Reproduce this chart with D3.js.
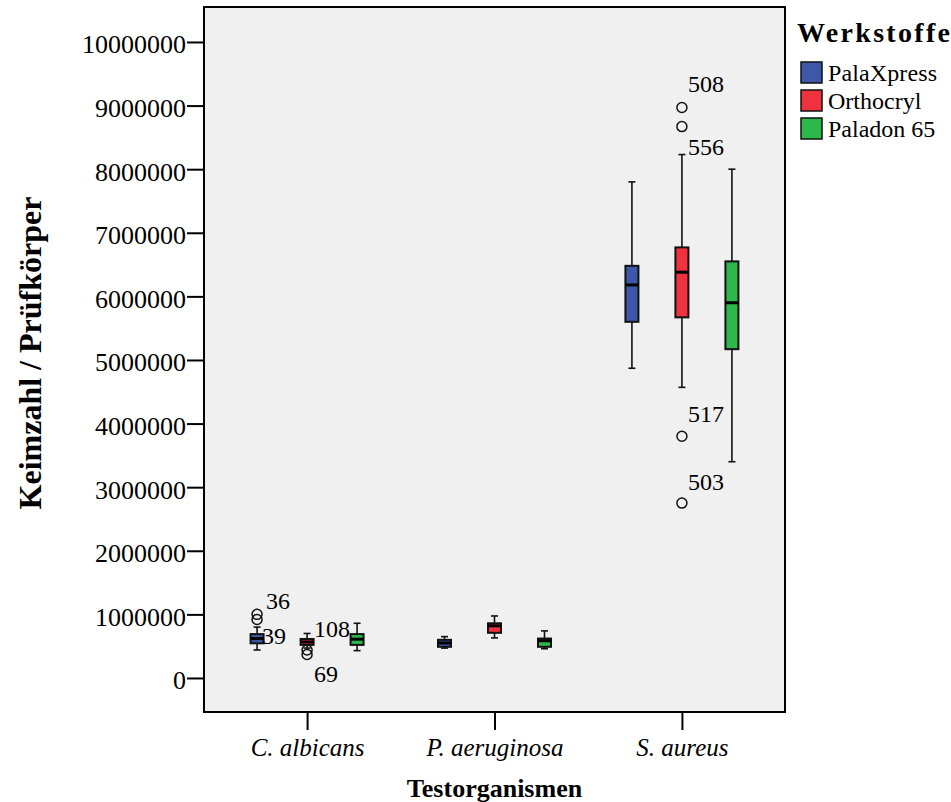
<!DOCTYPE html>
<html>
<head>
<meta charset="utf-8">
<script src="https://cdn.jsdelivr.net/npm/d3@7"></script>
<style>
  body { margin: 0; background: #fff; }
  svg text { font-family: "Liberation Serif", "Times New Roman", serif; fill: #000; }
</style>
</head>
<body>
<svg id="chart"></svg>
<script>
// Kategorien und Serien
const groups = ["C. albicans", "P. aeruginosa", "S. aureus"];
const series = ["PalaXpress", "Orthocryl", "Paladon 65"];
const seriesColors = ["#3d57a9", "#f0323f", "#2db84b"];

// Fünf-Punkte-Zusammenfassung je Gruppe: [Whisker unten, Q1, Median, Q3, Whisker oben]
const palaXpress = [
  [440000, 545000, 620000, 690000, 800000],
  [470000, 490000, 550000, 600000, 650000],
  [4870000, 5600000, 6180000, 6480000, 7800000]
];
const orthocryl = [
  [470000, 520000, 566000, 613000, 700000],
  [630000, 710000, 820000, 860000, 975000],
  [4570000, 5670000, 6380000, 6770000, 8230000]
];
const paladon65 = [
  [430000, 520000, 610000, 690000, 860000],
  [460000, 490000, 585000, 620000, 740000],
  [3400000, 5170000, 5900000, 6550000, 8000000]
];

// Ausreißer mit Fallnummern
const outliers = [
  { group: "C. albicans", series: "PalaXpress", value: 1000000, id: "36" },
  { group: "C. albicans", series: "PalaXpress", value: 920000, id: "39" },
  { group: "C. albicans", series: "Orthocryl", value: 440000, id: "108" },
  { group: "C. albicans", series: "Orthocryl", value: 370000, id: "69" },
  { group: "S. aureus", series: "Orthocryl", value: 8970000, id: "508" },
  { group: "S. aureus", series: "Orthocryl", value: 8670000, id: "556" },
  { group: "S. aureus", series: "Orthocryl", value: 3800000, id: "517" },
  { group: "S. aureus", series: "Orthocryl", value: 2750000, id: "503" }
];

const yTicks = d3.range(0, 10000001, 1000000);

// Lage der Beschriftungen relativ zum Punkt (wie SPSS sie verschiebt)
const labelOffsets = {
  "36": [9, -5], "39": [5, 25], "108": [7, -13], "69": [7, 28],
  "508": [6, -15], "556": [6, 28], "517": [6, -14], "503": [6, -13]
};

const serif = "'Liberation Serif', 'Times New Roman', serif";
const width = 951, height = 802;
const plot = { left: 204, right: 785, top: 7, bottom: 712 };

const svg = d3.select("#chart")
  .attr("width", width).attr("height", height)
  .attr("font-family", serif);

const y = d3.scaleLinear()
  .domain([-535000, 10550000])
  .range([plot.bottom, plot.top]);

const x = d3.scalePoint()
  .domain(groups)
  .range([plot.left, plot.right])
  .padding(0.55);

const xSub = d3.scalePoint()
  .domain(series)
  .range([-50, 50]);

const color = d3.scaleOrdinal().domain(series).range(seriesColors);

// Hintergrund der Zeichenfläche
svg.append("rect")
  .attr("x", plot.left).attr("y", plot.top)
  .attr("width", plot.right - plot.left)
  .attr("height", plot.bottom - plot.top)
  .attr("fill", "#f0f0f0");

// Boxen aufbauen
const boxData = [];
[palaXpress, orthocryl, paladon65].forEach((stats, si) => {
  stats.forEach((s, gi) => {
    boxData.push({
      group: groups[gi], series: series[si],
      lo: s[0], q1: s[1], med: s[2], q3: s[3], hi: s[4]
    });
  });
});

const boxW = 13, capW = 7;
const boxes = svg.append("g").attr("class", "boxes")
  .selectAll("g")
  .data(boxData)
  .join("g")
  .attr("transform", d => `translate(${x(d.group) + xSub(d.series)},0)`);

boxes.append("line")
  .attr("y1", d => y(d.lo)).attr("y2", d => y(d.hi))
  .attr("stroke", "#111").attr("stroke-width", 1.6);

boxes.selectAll(".cap")
  .data(d => [d.lo, d.hi])
  .join("line")
  .attr("class", "cap")
  .attr("x1", -capW / 2).attr("x2", capW / 2)
  .attr("y1", v => y(v)).attr("y2", v => y(v))
  .attr("stroke", "#111").attr("stroke-width", 1.6);

boxes.append("rect")
  .attr("x", -boxW / 2)
  .attr("y", d => y(d.q3))
  .attr("width", boxW)
  .attr("height", d => y(d.q1) - y(d.q3))
  .attr("fill", d => color(d.series))
  .attr("stroke", "#111").attr("stroke-width", 2);

boxes.append("line")
  .attr("x1", -boxW / 2).attr("x2", boxW / 2)
  .attr("y1", d => y(d.med)).attr("y2", d => y(d.med))
  .attr("stroke", "#000").attr("stroke-width", 3);

// Ausreißer
const out = svg.append("g").attr("class", "outliers")
  .selectAll("g")
  .data(outliers)
  .join("g")
  .attr("transform", d => `translate(${x(d.group) + xSub(d.series)},${y(d.value)})`);

out.append("circle")
  .attr("r", 5)
  .attr("fill", "none")
  .attr("stroke", "#111").attr("stroke-width", 1.5);

out.append("text")
  .attr("x", d => labelOffsets[d.id][0])
  .attr("y", d => labelOffsets[d.id][1])
  .attr("font-family", serif)
  .attr("font-size", 24)
  .text(d => d.id);

// Rahmen
svg.append("rect")
  .attr("x", plot.left).attr("y", plot.top)
  .attr("width", plot.right - plot.left)
  .attr("height", plot.bottom - plot.top)
  .attr("fill", "none")
  .attr("stroke", "#000").attr("stroke-width", 2);

// Y-Achse
const yAxis = svg.append("g")
  .attr("transform", `translate(${plot.left},0)`)
  .call(d3.axisLeft(y).tickValues(yTicks).tickFormat(d3.format("d")).tickSize(17).tickPadding(1));
yAxis.select(".domain").remove();
yAxis.selectAll(".tick line").attr("stroke", "#000").attr("stroke-width", 2);
yAxis.selectAll(".tick text")
  .attr("font-family", serif)
  .attr("font-size", 26)
  .attr("dy", "0.42em");

// X-Achse
const xAxis = svg.append("g")
  .attr("transform", `translate(0,${plot.bottom})`)
  .call(d3.axisBottom(x).tickSize(18).tickPadding(8));
xAxis.select(".domain").remove();
xAxis.selectAll(".tick line").attr("stroke", "#000").attr("stroke-width", 2);
xAxis.selectAll(".tick text")
  .attr("font-family", serif)
  .attr("font-size", 25)
  .attr("font-style", "italic");

// Achsentitel
svg.append("text")
  .attr("x", (plot.left + plot.right) / 2)
  .attr("y", 797)
  .attr("text-anchor", "middle")
  .attr("font-family", serif)
  .attr("font-size", 26)
  .attr("font-weight", "bold")
  .text("Testorganismen");

svg.append("text")
  .attr("transform", `translate(41,353) rotate(-90)`)
  .attr("text-anchor", "middle")
  .attr("font-family", serif)
  .attr("font-size", 32)
  .attr("font-weight", "bold")
  .text("Keimzahl / Prüfkörper");

// Legende
const legend = svg.append("g").attr("transform", "translate(797,0)");
legend.append("text")
  .attr("x", 0).attr("y", 42)
  .attr("font-family", serif)
  .attr("font-size", 28)
  .attr("font-weight", "bold")
  .attr("textLength", 153)
  .attr("lengthAdjust", "spacing")
  .text("Werkstoffe");

const items = legend.selectAll(".item")
  .data(series)
  .join("g")
  .attr("class", "item")
  .attr("transform", (d, i) => `translate(4,${62 + i * 28})`);

items.append("rect")
  .attr("width", 21).attr("height", 21)
  .attr("fill", d => color(d))
  .attr("stroke", "#111").attr("stroke-width", 1.5);

items.append("text")
  .attr("x", 27).attr("y", 19)
  .attr("font-family", serif)
  .attr("font-size", 24)
  .attr("textLength", d => d === "PalaXpress" ? 109 : null)
  .text(d => d);
</script>
</body>
</html>
